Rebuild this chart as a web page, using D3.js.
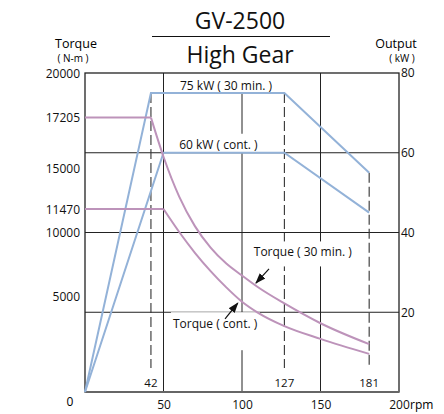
<!DOCTYPE html>
<html>
<head>
<meta charset="utf-8">
<script src="https://cdn.jsdelivr.net/npm/d3@7"></script>
<style>
  body { margin: 0; background: #fff; }
  svg { display: block; font-family: "Open Sans", sans-serif; }
</style>
</head>
<body>
<svg></svg>
<script>
const width = 444;
const height = 414;
const margin = { top: 73, right: 45, bottom: 22, left: 85 };

// ticks
const rpmTicks = [50, 100, 150, 200];
const torqueTicks = [20000, 17205, 15000, 11470, 10000, 5000];
const outputTicks = [20, 40, 60, 80];
const markRpm = [42, 127, 181];

// output (kW)
const power30Rpm = [0, 42, 127, 181];
const power30Kw = [0, 75, 75, 55];
const powerContRpm = [0, 50, 127, 181];
const powerContKw = [0, 60, 60, 45];

// torque (N-m)
const torque30Rpm = [0, 42, 50, 60, 70, 80, 90, 100, 110, 127, 150, 181];
const torque30Nm = [17205, 17205, 14750, 12250, 10400, 9050, 8050, 7300, 6580, 5550, 4310, 3000];
const torqueContRpm = [0, 50, 60, 70, 80, 90, 100, 110, 127, 150, 181];
const torqueContNm = [11470, 11470, 10030, 8730, 7580, 6560, 5660, 4980, 4130, 3330, 2390];

const blue = "#93b2d8";
const purple = "#bd93ba";

const svg = d3.select("svg")
  .attr("width", width)
  .attr("height", height);

const x = d3.scaleLinear().domain([0, 200]).range([margin.left, width - margin.right]);
const yT = d3.scaleLinear().domain([0, 20000]).range([height - margin.bottom, margin.top]);
const yP = d3.scaleLinear().domain([0, 80]).range([height - margin.bottom, margin.top]);

const plotTop = margin.top, plotBottom = height - margin.bottom;
const plotLeft = margin.left, plotRight = width - margin.right;

// titre
svg.append("text").attr("x", 240).attr("y", 29).attr("text-anchor", "middle")
  .attr("font-size", 23).attr("fill", "#111").text("GV-2500");
svg.append("line").attr("x1", 152).attr("x2", 330).attr("y1", 36.5).attr("y2", 36.5)
  .attr("stroke", "#111").attr("stroke-width", 1.2);
svg.append("text").attr("x", 240).attr("y", 63).attr("text-anchor", "middle")
  .attr("font-size", 23).attr("fill", "#111").text("High Gear");

// titres des axes
svg.append("text").attr("x", 76).attr("y", 48).attr("text-anchor", "middle")
  .attr("font-size", 12.5).text("Torque");
svg.append("text").attr("x", 73).attr("y", 61.5).attr("text-anchor", "middle")
  .attr("font-size", 10).attr("xml:space", "preserve").text("( N-m )");
svg.append("text").attr("x", 396).attr("y", 48).attr("text-anchor", "middle")
  .attr("font-size", 12.5).text("Output");
svg.append("text").attr("x", 402).attr("y", 61.5).attr("text-anchor", "middle")
  .attr("font-size", 10).text("( kW )");

// grille
const grid = svg.append("g").attr("stroke", "#222").attr("stroke-width", 1);
grid.selectAll(".v").data(rpmTicks.filter(d => d < 200)).join("line")
  .attr("x1", d => x(d)).attr("x2", d => x(d)).attr("y1", plotTop).attr("y2", plotBottom);
grid.selectAll(".h").data(outputTicks.filter(d => d < 80)).join("line")
  .attr("x1", plotLeft).attr("x2", plotRight).attr("y1", d => yP(d)).attr("y2", d => yP(d));

// lignes pointillées (42, 127, 181)
const dashTop = [yP(75), yP(75), yP(55)];
svg.append("g").selectAll("line").data(markRpm).join("line")
  .attr("x1", d => x(d)).attr("x2", d => x(d))
  .attr("y1", (d, i) => dashTop[i]).attr("y2", plotBottom - 24)
  .attr("stroke", "#333").attr("stroke-width", 1.1).attr("stroke-dasharray", "10,4");
svg.append("g").selectAll("text").data(markRpm).join("text")
  .attr("x", d => x(d)).attr("y", plotBottom - 5).attr("text-anchor", "middle")
  .attr("font-size", 11.5).attr("fill", "#111").text(d => d);

// étiquettes avec fond blanc
function boxLabel(tx, ty, txt, size, pad) {
  const g = svg.append("g");
  const t = g.append("text").attr("x", tx).attr("y", ty)
    .attr("font-size", size).attr("fill", "#111").attr("xml:space", "preserve").text(txt);
  const b = t.node().getBBox();
  g.insert("rect", "text").attr("x", b.x - pad[0]).attr("y", b.y - pad[1])
    .attr("width", b.width + 2 * pad[0]).attr("height", b.height + pad[1] + pad[2])
    .attr("fill", "#fff");
}
boxLabel(x(60.5), yP(75) - 3, "75 kW ( 30 min. )", 12, [3, 6, 0]);
boxLabel(x(60), yP(60) - 4, "60 kW ( cont. )", 12, [3, 2, 0]);
boxLabel(x(107.5), yT(8500), "Torque ( 30 min. )", 12, [2, 2, 6]);
boxLabel(x(56), yT(4000), "Torque ( cont. )", 12, [2, 3, 18]);

// cadre
svg.append("rect").attr("x", plotLeft).attr("y", plotTop)
  .attr("width", plotRight - plotLeft).attr("height", plotBottom - plotTop)
  .attr("fill", "none").attr("stroke", "#222").attr("stroke-width", 1.3);
svg.append("line").attr("x1", plotLeft).attr("x2", plotRight).attr("y1", plotBottom).attr("y2", plotBottom)
  .attr("stroke", "#666").attr("stroke-width", 2);

// axes
const axisL = svg.append("g").attr("transform", `translate(${plotLeft},0)`)
  .call(d3.axisLeft(yT).tickValues(torqueTicks).tickSize(0).tickPadding(5).tickFormat(d => d));
const shiftL = { 15000: 16, 5000: -16 };
axisL.selectAll(".tick text").attr("dy", d => (shiftL[d] || 0) + 4 + "px");
svg.append("text").attr("x", 70).attr("y", yT(0) + 14).attr("text-anchor", "middle")
  .attr("font-size", 12).text("0");

const axisR = svg.append("g").attr("transform", `translate(${plotRight},0)`)
  .call(d3.axisRight(yP).tickValues(outputTicks).tickSize(0).tickPadding(2));

const axisB = svg.append("g").attr("transform", `translate(0,${plotBottom})`)
  .call(d3.axisBottom(x).tickValues(rpmTicks).tickSize(0).tickPadding(8));
svg.append("text").attr("x", x(200) + 11).attr("y", plotBottom + 17)
  .attr("font-size", 12).text("rpm");

[axisL, axisR, axisB].forEach(a => {
  a.select(".domain").remove();
  a.selectAll("text").attr("font-size", 12).attr("fill", "#111").attr("font-family", "Open Sans");
});

// courbes
const line = (xs, ys, sy, curve) => d3.line()
  .x(i => x(xs[i])).y(i => sy(ys[i])).curve(curve)(d3.range(xs.length));

function drawSeries(xs, ys, sy, color, curve) {
  svg.append("path").attr("d", line(xs, ys, sy, curve))
    .attr("fill", "none").attr("stroke", color).attr("stroke-width", 2);
}

drawSeries(power30Rpm, power30Kw, yP, blue, d3.curveLinear);
drawSeries(powerContRpm, powerContKw, yP, blue, d3.curveLinear);

// partie plate + partie décroissante
function drawTorque(xs, ys) {
  const k = ys.findIndex((v, i) => i > 0 && v < ys[0]) - 1;
  drawSeries(xs.slice(0, k + 1), ys.slice(0, k + 1), yT, purple, d3.curveLinear);
  drawSeries(xs.slice(k), ys.slice(k), yT, purple, d3.curveMonotoneX);
}
drawTorque(torque30Rpm, torque30Nm);
drawTorque(torqueContRpm, torqueContNm);

// flèches
svg.append("defs").append("marker")
  .attr("id", "arrow").attr("viewBox", "0 0 10 10").attr("refX", 9).attr("refY", 5)
  .attr("markerWidth", 9).attr("markerHeight", 9).attr("orient", "auto")
  .append("path").attr("d", "M0,1.5 L10,5 L0,8.5 Z").attr("fill", "#111");

const arrows = [
  [[117.2, 7720], [108.9, 6830]],
  [[89.2, 4580], [97.3, 5570]]
];
svg.append("g").selectAll("line").data(arrows).join("line")
  .attr("x1", d => x(d[0][0])).attr("y1", d => yT(d[0][1]))
  .attr("x2", d => x(d[1][0])).attr("y2", d => yT(d[1][1]))
  .attr("stroke", "#111").attr("stroke-width", 1.2).attr("marker-end", "url(#arrow)");
</script>
</body>
</html>
